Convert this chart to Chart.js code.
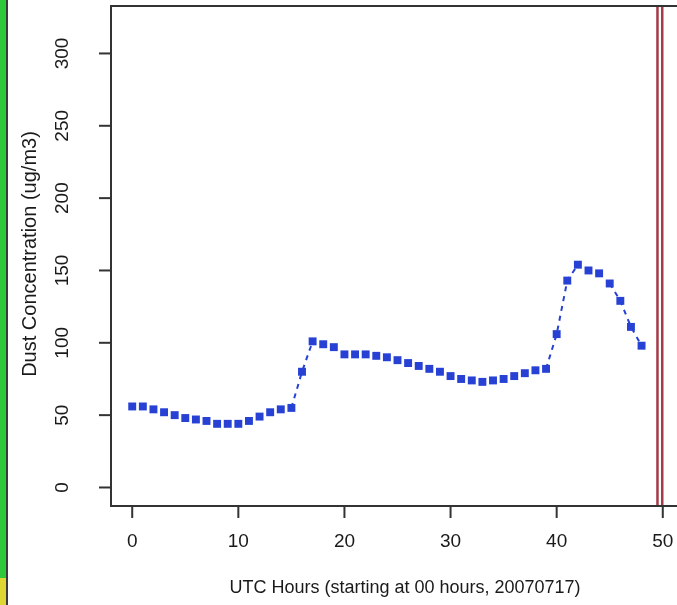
<!DOCTYPE html>
<html lang="en">
<head>
    <meta charset="UTF-8">
    <title>Dust Concentration</title>
    <style>
        html, body {
            margin: 0;
            padding: 0;
            width: 677px;
            height: 605px;
            overflow: hidden;
            background: #ffffff;
        }
        /* strip of the neighbouring window at the left edge */
        .side-green {
            position: absolute; left: 0; top: 0; width: 6px; height: 578px;
            background: #2fc83c;
        }
        .side-yellow {
            position: absolute; left: 0; top: 578px; width: 6px; height: 27px;
            background: #ddd633;
        }
        .side-edge {
            position: absolute; left: 6px; top: 0; width: 2px; height: 605px;
            background: #3a3a3a;
        }
        #wrap {
            position: absolute; left: 0; top: 0;
        }
    </style>
</head>
<body>
    <div class="side-green"></div>
    <div class="side-yellow"></div>
    <div class="side-edge"></div>
    <div id="wrap">
        <canvas id="dustChart" width="700" height="605"></canvas>
    </div>

    <script src="https://cdn.jsdelivr.net/npm/chart.js"></script>

    <script>
        // hours since 00 UTC, 2007-07-17
        const hours = [0, 1, 2, 3, 4, 5, 6, 7, 8, 9, 10, 11, 12, 13, 14, 15, 16,
            17, 18, 19, 20, 21, 22, 23, 24, 25, 26, 27, 28, 29, 30, 31, 32,
            33, 34, 35, 36, 37, 38, 39, 40, 41, 42, 43, 44, 45, 46, 47, 48];
        // dust concentration (ug/m3)
        const dust = [56, 56, 54, 52, 50, 48, 47, 46, 44, 44, 44, 46, 49, 52, 54, 55, 80,
            101, 99, 97, 92, 92, 92, 91, 90, 88, 86, 84, 82, 80, 77, 75, 74,
            73, 74, 75, 77, 79, 81, 82, 106, 143, 154, 150, 148, 141, 129, 111, 98];

        const xTicks = [0, 10, 20, 30, 40, 50];
        const yTicks = [0, 50, 100, 150, 200, 250, 300];
        const xRange = [-2, 52];
        const yRange = [-12.8, 332.8];
        const markerHours = [49.5, 49.95]; // red double line near hour 50

        const xTitle = 'UTC Hours (starting at 00 hours, 20070717)';
        const yTitle = 'Dust Concentration (ug/m3)';

        const blue = '#2641d4';
        const red = '#a53a48';
        const family = '"Liberation Sans", Arial, sans-serif';

        // R style box, ticks and labels
        const rAxes = {
            id: 'rAxes',
            afterDraw(chart) {
                const ctx = chart.ctx;
                const a = chart.chartArea;
                const xs = chart.scales.x;
                const ys = chart.scales.y;
                ctx.save();
                ctx.strokeStyle = '#333333';
                ctx.lineWidth = 2;
                ctx.strokeRect(a.left, a.top, a.right - a.left, a.bottom - a.top);

                ctx.fillStyle = '#1a1a1a';
                ctx.font = '19px ' + family;
                ctx.textAlign = 'center';
                ctx.textBaseline = 'middle';

                xTicks.forEach((v) => {
                    const px = xs.getPixelForValue(v);
                    ctx.beginPath();
                    ctx.moveTo(px, a.bottom);
                    ctx.lineTo(px, a.bottom + 12);
                    ctx.stroke();
                    ctx.fillText(String(v), px, 542);
                });

                yTicks.forEach((v) => {
                    const py = ys.getPixelForValue(v);
                    ctx.beginPath();
                    ctx.moveTo(a.left, py);
                    ctx.lineTo(a.left - 12, py);
                    ctx.stroke();
                    ctx.save();
                    ctx.translate(63, py);
                    ctx.rotate(-Math.PI / 2);
                    ctx.fillText(String(v), 0, 0);
                    ctx.restore();
                });

                ctx.font = '18px ' + family;
                ctx.fillText(xTitle, 405, 588);
                ctx.font = '20px ' + family;
                ctx.save();
                ctx.translate(30, (a.top + a.bottom) / 2 - 2);
                ctx.rotate(-Math.PI / 2);
                ctx.fillText(yTitle, 0, 0);
                ctx.restore();
                ctx.restore();
            }
        };

        const points = hours.map((h, i) => ({ x: h, y: dust[i] }));
        const markerSets = markerHours.map((h, i) => ({
            data: [{ x: h, y: yRange[0] }, { x: h, y: yRange[1] }],
            borderColor: red,
            borderWidth: 2.5,
            pointRadius: 0,
            fill: i === 0 ? '+1' : false,
            backgroundColor: 'rgba(230, 190, 196, 0.6)'
        }));

        new Chart(document.getElementById('dustChart'), {
            type: 'line',
            data: {
                datasets: [{
                    data: points,
                    borderColor: blue,
                    borderWidth: 2,
                    borderDash: [5, 5],
                    backgroundColor: blue,
                    pointStyle: 'rect',
                    pointRadius: 5.6,
                    pointBorderWidth: 0,
                    pointBackgroundColor: blue,
                    fill: false,
                    tension: 0,
                    segment: {
                        // like type = "b": short links are hidden behind the gaps
                        borderColor: (c) => {
                            const dx = c.p1.x - c.p0.x;
                            const dy = c.p1.y - c.p0.y;
                            return Math.hypot(dx, dy) < 16 ? 'rgba(0,0,0,0)' : blue;
                        }
                    }
                }, ...markerSets]
            },
            options: {
                responsive: false,
                animation: false,
                devicePixelRatio: 1,
                layout: {
                    padding: { left: 111, top: 6, right: 16, bottom: 99 }
                },
                plugins: {
                    legend: { display: false },
                    tooltip: { enabled: false }
                },
                scales: {
                    x: { type: 'linear', min: xRange[0], max: xRange[1], display: false },
                    y: { type: 'linear', min: yRange[0], max: yRange[1], display: false }
                }
            },
            plugins: [rAxes]
        });
    </script>
</body>
</html>
